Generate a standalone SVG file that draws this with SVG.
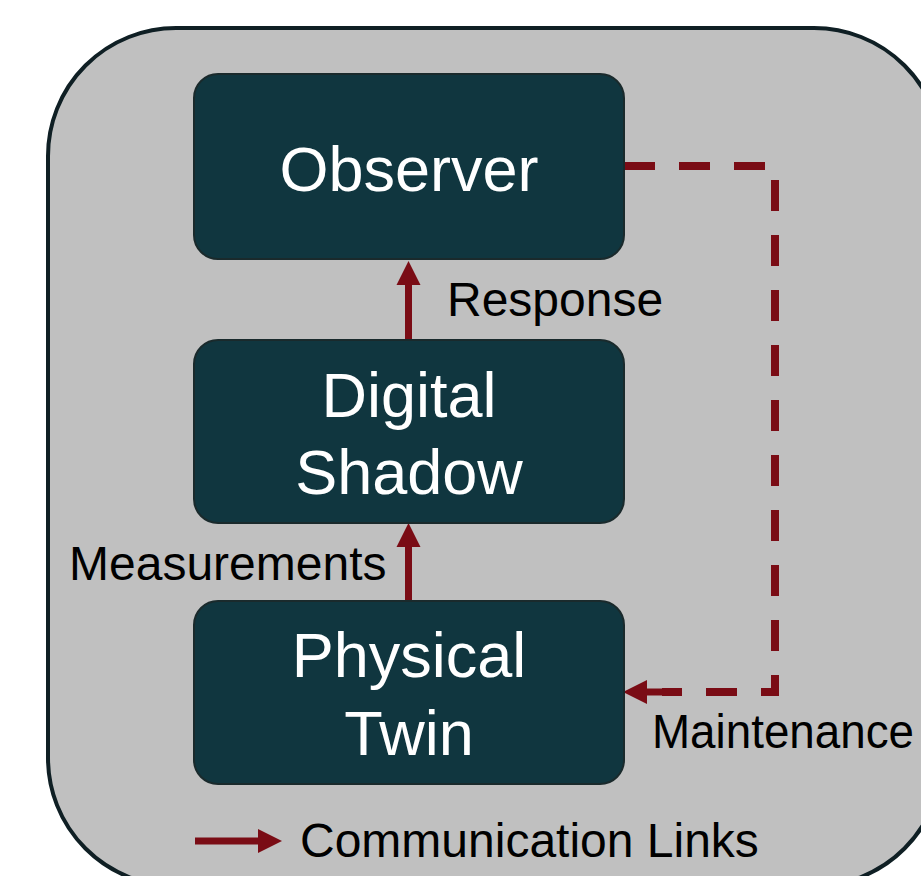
<svg xmlns="http://www.w3.org/2000/svg" width="921" height="876" viewBox="0 0 921 876">
  <style>
    .node rect { fill: #10363f; stroke: #1a2a2c; stroke-width: 2; }
    .node text { fill: #ffffff; font-family: "Liberation Sans", Arial, sans-serif; font-size: 63px; text-anchor: middle; }
    .label { fill: #000000; font-family: "Liberation Sans", Arial, sans-serif; font-size: 48px; }
    .link { stroke: #7a0c15; stroke-width: 7; fill: none; }
    .dashed { stroke-dasharray: 31 24; stroke-width: 8; }
  </style>
  <defs>
    <!-- arrowhead: starts at the line end and extends 24px forward -->
    <marker id="head" viewBox="0 0 24 24" refX="0" refY="12" markerWidth="24" markerHeight="24" markerUnits="userSpaceOnUse" orient="auto" overflow="visible">
      <path d="M0,0 L24,12 L0,24 Z" fill="#7a0c15"/>
    </marker>
  </defs>

  <rect width="921" height="876" fill="#ffffff"/>

  <!-- outer frame -->
  <rect id="frame" x="48" y="28" width="894" height="858" rx="128" ry="128" fill="#c0c0c0" stroke="#0f1f24" stroke-width="4"/>

  <!-- connectors -->
  <g id="connectors">
    <line class="link" x1="408.5" y1="340" x2="408.5" y2="285" marker-end="url(#head)"/>
    <line class="link" x1="408.5" y1="601" x2="408.5" y2="547" marker-end="url(#head)"/>
    <path class="link dashed" d="M624 166 H775 V692 H662"/>
    <line class="link" x1="662" y1="692" x2="647" y2="692" stroke-width="8" marker-end="url(#head)"/>
  </g>

  <g id="observer" class="node">
    <rect x="194" y="74" width="430" height="185" rx="24" ry="24"/>
    <text x="409" y="191">Observer</text>
  </g>

  <g id="digital-shadow" class="node">
    <rect x="194" y="340" width="430" height="183" rx="24" ry="24"/>
    <text x="409" y="417">Digital</text>
    <text x="409" y="494">Shadow</text>
  </g>

  <g id="physical-twin" class="node">
    <rect x="194" y="601" width="430" height="183" rx="24" ry="24"/>
    <text x="409" y="677">Physical</text>
    <text x="409" y="755">Twin</text>
  </g>

  <!-- edge labels -->
  <text class="label" x="652" y="748" textLength="262" lengthAdjust="spacingAndGlyphs">Maintenance</text>
  <text class="label" x="447" y="316">Response</text>
  <text class="label" x="69" y="580">Measurements</text>

  <!-- legend -->
  <g id="legend">
    <line class="link" x1="195" y1="841" x2="258" y2="841" stroke-width="9" marker-end="url(#head)"/>
    <text class="label" x="300" y="857">Communication Links</text>
  </g>
</svg>
